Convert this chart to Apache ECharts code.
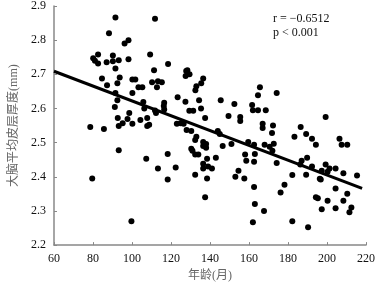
<!DOCTYPE html>
<html>
<head>
<meta charset="utf-8">
<script src="https://cdn.jsdelivr.net/npm/echarts@6/dist/echarts.min.js"></script>
<style>
  html, body { margin: 0; padding: 0; background: #fff; }
  #chart { width: 378px; height: 287px; }
</style>
</head>
<body>
<div id="chart"></div>
<script>
// 年龄(月) , 厚度(mm)
var points = [
  [78.6, 2.546], [85.6, 2.54], [79.6, 2.395],
  [80.1, 2.747], [82.6, 2.758], [82.6, 2.732], [81, 2.74],
  [84.6, 2.688], [87, 2.735], [88.2, 2.82], [87.2, 2.668], [90.2, 2.755], [90.2, 2.738],
  [91.5, 2.866], [91.5, 2.717], [92.5, 2.674], [91.5, 2.645], [91.2, 2.604], [92.5, 2.624],
  [93.7, 2.691], [93.2, 2.741], [92.7, 2.572], [93.2, 2.549], [93.2, 2.478], [95.2, 2.557],
  [97.7, 2.569], [96.2, 2.79], [98.2, 2.8], [98.2, 2.744], [98.6, 2.587], [99.7, 2.27],
  [100.2, 2.645], [100.2, 2.685], [101.7, 2.685], [100.2, 2.555],
  [103.3, 2.662], [105.3, 2.662], [104.3, 2.566], [105.8, 2.619], [106.3, 2.60], [107.8, 2.572],
  [107.8, 2.549], [108.8, 2.552], [109.3, 2.758], [111.3, 2.712], [111.8, 2.863], [110.3, 2.677],
  [112.8, 2.662], [113.3, 2.68], [115.3, 2.677], [112.3, 2.587], [111.8, 2.594], [116.3, 2.607],
  [116.5, 2.617], [116.5, 2.597], [118.5, 2.73], [107.3, 2.453], [113.3, 2.424], [118.3, 2.467],
  [118.3, 2.392], [122.4, 2.427], [131, 2.476], [123, 2.555], [125, 2.557], [126.5, 2.555],
  [123.4, 2.633], [127.4, 2.62], [127.8, 2.71], [128.4, 2.712], [129.5, 2.70], [127.5, 2.695],
  [128, 2.537], [130.4, 2.534], [129.4, 2.593], [131.4, 2.593],
  [133, 2.665], [132.5, 2.653], [136.5, 2.688], [135.5, 2.674], [134.4, 2.624], [135.4, 2.60],
  [137.5, 2.572], [145.5, 2.624], [149.5, 2.578], [144, 2.534], [145, 2.525], [133, 2.517],
  [132.4, 2.508], [136.5, 2.502], [138, 2.496], [136.5, 2.49], [138, 2.485], [134, 2.465],
  [130.4, 2.482], [146.5, 2.49], [138.5, 2.453], [136.5, 2.438], [143, 2.456], [136.5, 2.424],
  [139, 2.43], [141, 2.424], [132.4, 2.406], [138.5, 2.395], [137.5, 2.34], [132.4, 2.465],
  [152.5, 2.613], [151, 2.496], [153, 2.40], [154.6, 2.418], [157.6, 2.395], [155.5, 2.575],
  [155.5, 2.563], [158, 2.465], [158.6, 2.447], [159.6, 2.502], [161.6, 2.61], [162, 2.595],
  [164.6, 2.595], [165.6, 2.662], [164.6, 2.639], [162.6, 2.494], [163, 2.467], [162.6, 2.444],
  [162.6, 2.37], [163, 2.32], [167.7, 2.30], [162, 2.267], [167, 2.555], [167, 2.543],
  [168.6, 2.595], [172.3, 2.55], [171.8, 2.528], [168, 2.494], [170.6, 2.488], [172.7, 2.497],
  [174.2, 2.645], [174.2, 2.44], [176.2, 2.354], [178.2, 2.377], [172, 2.476],
  [182.2, 2.405], [182.2, 2.27], [183.3, 2.517], [186.5, 2.546], [189.3, 2.525], [192.3, 2.511],
  [194.3, 2.494], [199.3, 2.575], [206.4, 2.511], [207.5, 2.494], [210.4, 2.494], [189.8, 2.456],
  [187, 2.447], [186.3, 2.436], [192.3, 2.43], [199.3, 2.436], [197.3, 2.418], [200.3, 2.415],
  [201.3, 2.424], [204.4, 2.424], [208.4, 2.41], [215.4, 2.404], [189.3, 2.406], [196.3, 2.394],
  [196.8, 2.392], [204.4, 2.366], [210.4, 2.35], [194.3, 2.34], [195.3, 2.337], [200.3, 2.33],
  [208.4, 2.33], [204.4, 2.308], [197.3, 2.305], [212.5, 2.31], [211.5, 2.296], [190.3, 2.252]
];
// 回归线两端
var fitLine = [[60, 2.709], [218, 2.366]];
var statText = ['r = \u22120.6512', 'p < 0.001'];

var chart = echarts.init(document.getElementById('chart'));
var serif = '"Liberation Serif", "Times New Roman", serif';
var cjk = '"Liberation Serif", "Noto Sans CJK SC", serif';

var option = {
  animation: false,
  grid: { left: 48, right: 12, top: 6, bottom: 41 },
  xAxis: {
    type: 'value',
    min: 60,
    max: 220,
    interval: 20,
    name: '年龄(月)',
    nameLocation: 'middle',
    nameGap: 24,
    nameTextStyle: { color: '#666', fontSize: 12, fontFamily: cjk },
    axisLine: { lineStyle: { color: '#888', width: 1.5 } },
    axisTick: { inside: true, length: 3, lineStyle: { color: '#888' } },
    axisLabel: { color: '#111', fontSize: 12, fontFamily: serif, margin: 8 },
    splitLine: { show: false }
  },
  yAxis: {
    type: 'value',
    min: 2.2,
    max: 2.9,
    interval: 0.1,
    name: '大脑平均皮层厚度(mm)',
    nameLocation: 'middle',
    nameGap: 34,
    nameTextStyle: { color: '#666', fontSize: 12, fontFamily: cjk },
    axisLine: { show: true, lineStyle: { color: '#888', width: 1.5 } },
    axisTick: { show: true, inside: true, length: 3, lineStyle: { color: '#888' } },
    axisLabel: {
      color: '#111', fontSize: 12, fontFamily: serif, margin: 8,
      formatter: function (v) { return v.toFixed(1); }
    },
    splitLine: { show: false }
  },
  graphic: [{
    type: 'text',
    left: 273,
    top: 12,
    style: {
      text: statText.join('\n'),
      fill: '#111',
      font: '12px ' + serif,
      lineHeight: 14
    }
  }],
  series: [
    {
      type: 'scatter',
      data: points,
      symbolSize: 6,
      itemStyle: { color: '#000', opacity: 1 }
    },
    {
      type: 'line',
      data: fitLine,
      symbol: 'none',
      lineStyle: { color: '#000', width: 3 }
    }
  ]
};
chart.setOption(option);
</script>
</body>
</html>
